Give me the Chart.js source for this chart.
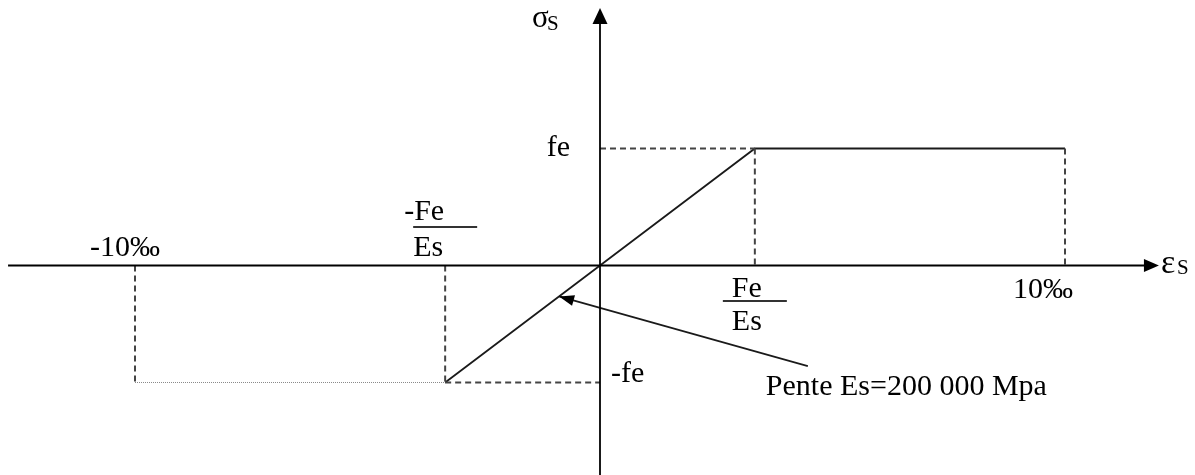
<!DOCTYPE html>
<html>
<head>
<meta charset="utf-8">
<script src="https://cdn.jsdelivr.net/npm/chart.js@4/dist/chart.umd.min.js"></script>
<style>
html,body{margin:0;padding:0;background:#fff;}
canvas{display:block;}
</style>
</head>
<body>
<canvas id="c" width="1195" height="475"></canvas>
<script>
// ---- data (strain in ‰, stress normalised to fe) ----
const epsYield = 3.33;                       // Fe/Es as drawn
const strainTicks  = [-10, -epsYield, epsYield, 10];
const strainLabels = ['-10‰', ['-Fe', 'Es'], ['Fe', 'Es'], '10‰'];
const stressTicks  = [1, -1];
const stressLabels = ['fe', '-fe'];
const curveStrain  = [-epsYield, 0, epsYield, 10];
const curveStress  = [-1, 0, 1, 1];
const plateauStrain = [-10, -epsYield];
const plateauStress = [-1, -1];
const annotText = 'Pente Es=200 000 Mpa';
const annotTip  = [-0.88, -0.264];
const annotTail = [4.47, -0.86];
const xAxisLabel = ['ε', 'S'];
const yAxisLabel = ['σ', 'S'];

// guide segments built from the key values
const guideSegs = [
  [[0, 1], [epsYield, 1]],
  [[epsYield, 1], [epsYield, 0]],
  [[10, 1], [10, 0]],
  [[-10, 0], [-10, -1]],
  [[-epsYield, 0], [-epsYield, -1]],
  [[-epsYield, -1], [0, -1]]
];

const toPts = (xs, ys) => xs.map((x, i) => ({x: x, y: ys[i]}));

const datasets = [];
guideSegs.forEach(s => datasets.push({
  data: s.map(p => ({x: p[0], y: p[1]})),
  borderColor: '#444444', borderWidth: 2, borderDash: [6, 4]
}));
datasets.push({
  data: toPts(plateauStrain, plateauStress),
  borderColor: '#8a8a8a', borderWidth: 1, borderDash: [1, 1]
});
datasets.push({
  data: toPts(curveStrain, curveStress),
  borderColor: '#1a1a1a', borderWidth: 1.8
});
datasets.push({
  data: [{x: annotTail[0], y: annotTail[1]}, {x: annotTip[0], y: annotTip[1]}],
  borderColor: '#1a1a1a', borderWidth: 1.6
});

const FONT = '"Liberation Serif", "Times New Roman", serif';

const drawPlugin = {
  id: 'drawing',
  afterDatasetsDraw(chart) {
    const ctx = chart.ctx;
    const xs = chart.scales.x, ys = chart.scales.y;
    const X = v => xs.getPixelForValue(v), Y = v => ys.getPixelForValue(v);
    ctx.save();
    ctx.strokeStyle = '#000'; ctx.fillStyle = '#000'; ctx.lineWidth = 1.8;

    // x axis
    const y0 = Y(0), x0 = X(0);
    const xl = X(-12.73), xr = X(12.02);
    ctx.beginPath(); ctx.moveTo(xl, y0); ctx.lineTo(xr - 12, y0); ctx.stroke();
    ctx.beginPath(); ctx.moveTo(xr, y0); ctx.lineTo(xr - 15, y0 - 6.5); ctx.lineTo(xr - 15, y0 + 6.5); ctx.closePath(); ctx.fill();
    // y axis
    const yt = Y(2.2), yb = Y(-1.8);
    ctx.beginPath(); ctx.moveTo(x0, yb); ctx.lineTo(x0, yt + 12); ctx.stroke();
    ctx.beginPath(); ctx.moveTo(x0, yt); ctx.lineTo(x0 - 7.5, yt + 16); ctx.lineTo(x0 + 7.5, yt + 16); ctx.closePath(); ctx.fill();

    // annotation arrow head
    const tx = X(annotTip[0]), ty = Y(annotTip[1]);
    const sx = X(annotTail[0]), sy = Y(annotTail[1]);
    const ang = Math.atan2(ty - sy, tx - sx);
    const L = 15, W = 5.5;
    ctx.beginPath();
    ctx.moveTo(tx, ty);
    ctx.lineTo(tx - L * Math.cos(ang) + W * Math.sin(ang), ty - L * Math.sin(ang) - W * Math.cos(ang));
    ctx.lineTo(tx - L * Math.cos(ang) - W * Math.sin(ang), ty - L * Math.sin(ang) + W * Math.cos(ang));
    ctx.closePath(); ctx.fill();

    ctx.textBaseline = 'alphabetic';
    ctx.font = '30px ' + FONT;

    // strain tick labels
    ctx.textAlign = 'center';
    ctx.fillText(strainLabels[0], X(strainTicks[0]) - 10, y0 - 10);
    let px = X(strainTicks[1]);
    ctx.textAlign = 'left';
    ctx.fillText(strainLabels[1][0], px - 41, y0 - 46);
    ctx.fillText(strainLabels[1][1], px - 32, y0 - 10);
    ctx.lineWidth = 2; ctx.strokeStyle = '#333';
    ctx.beginPath(); ctx.moveTo(px - 32, y0 - 38.5); ctx.lineTo(px + 32, y0 - 38.5); ctx.stroke();
    px = X(strainTicks[2]);
    ctx.fillText(strainLabels[2][0], px - 23, y0 + 31.5);
    ctx.fillText(strainLabels[2][1], px - 23, y0 + 64.5);
    ctx.beginPath(); ctx.moveTo(px - 32, y0 + 35.5); ctx.lineTo(px + 32, y0 + 35.5); ctx.stroke();
    ctx.textAlign = 'center';
    ctx.fillText(strainLabels[3], X(strainTicks[3]) - 22, y0 + 32.5);

    // stress tick labels
    ctx.textAlign = 'right';
    ctx.fillText(stressLabels[0], x0 - 30, Y(stressTicks[0]) + 7);
    ctx.textAlign = 'left';
    ctx.fillText(stressLabels[1], x0 + 11, Y(stressTicks[1]) - 1);

    // annotation text
    ctx.fillText(annotText, sx - 42, sy + 29);

    // axis titles
    ctx.font = '31px ' + FONT;
    ctx.fillText(yAxisLabel[0], x0 - 68, yt + 19);
    ctx.font = '34px ' + FONT;
    ctx.fillText(xAxisLabel[0], xr + 2, y0 + 7);
    ctx.font = '21px ' + FONT;
    ctx.fillText(yAxisLabel[1], x0 - 53, yt + 22);
    ctx.fillText(xAxisLabel[1], xr + 18, y0 + 8);

    ctx.restore();
  }
};

new Chart(document.getElementById('c'), {
  type: 'scatter',
  data: {datasets: datasets.map(d => Object.assign({showLine: true, pointRadius: 0, fill: false, tension: 0}, d))},
  options: {
    responsive: false,
    animation: false,
    devicePixelRatio: 1,
    layout: {padding: 0},
    plugins: {legend: {display: false}, tooltip: {enabled: false}},
    events: [],
    scales: {
      x: {type: 'linear', display: false, min: -600 / 46.5, max: 595 / 46.5},
      y: {type: 'linear', display: false, min: -209.5 / 117, max: 265.5 / 117}
    }
  },
  plugins: [drawPlugin]
});
</script>
</body>
</html>
